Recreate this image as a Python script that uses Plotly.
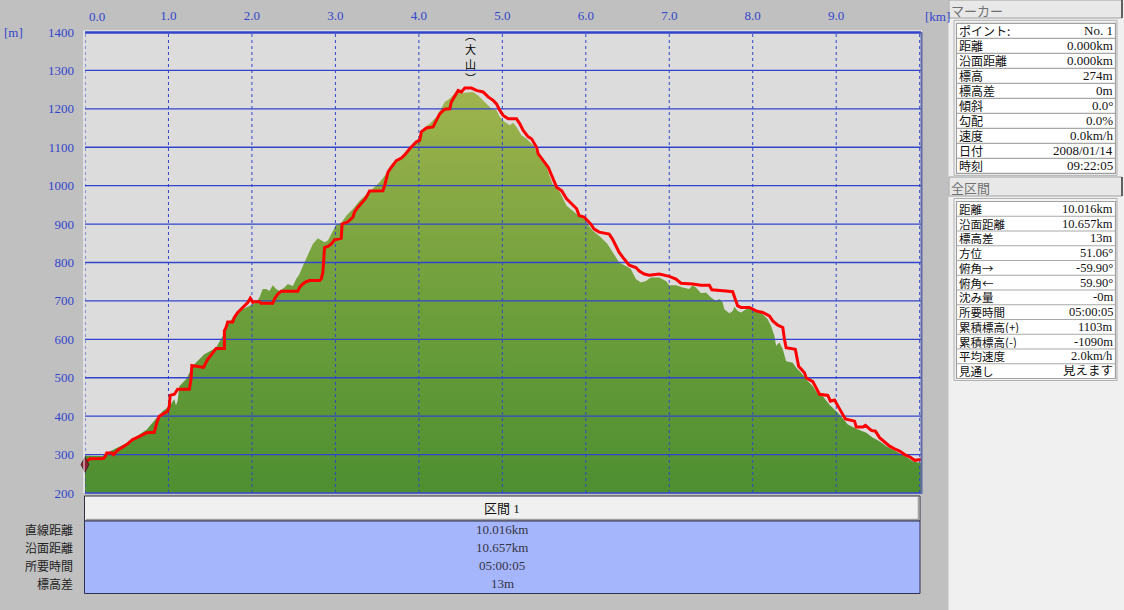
import plotly.graph_objects as go

# ---------------- data ----------------
terrain_km = [0.00, 0.21, 0.30, 0.50, 0.62, 0.74, 0.86, 0.93, 1.01, 1.07, 1.09, 1.11, 1.13, 1.21, 1.31,
              1.43, 1.57, 1.65, 1.69, 1.77, 1.89, 1.97, 2.05, 2.09, 2.13, 2.17, 2.21, 2.25, 2.29, 2.33,
              2.39, 2.43, 2.49, 2.53, 2.57, 2.61, 2.65, 2.69, 2.73, 2.79, 2.83, 2.87, 2.91, 2.95, 3.01,
              3.07, 3.13, 3.21, 3.29, 3.41, 3.47, 3.53, 3.61, 3.69, 3.77, 3.85, 3.93, 4.01, 4.09, 4.13,
              4.21, 4.31, 4.37, 4.43, 4.51, 4.65, 4.71, 4.77, 4.83, 4.87, 4.93, 4.97, 5.03, 5.09, 5.13,
              5.17, 5.23, 5.29, 5.37, 5.45, 5.53, 5.60, 5.69, 5.77, 5.89, 5.98, 6.08, 6.18, 6.26, 6.34,
              6.40, 6.48, 6.54, 6.60, 6.66, 6.72, 6.78, 6.88, 6.96, 7.00, 7.08, 7.16, 7.24, 7.28, 7.32,
              7.38, 7.44, 7.50, 7.56, 7.60, 7.64, 7.66, 7.72, 7.76, 7.78, 7.82, 7.86, 7.92, 7.98, 8.04,
              8.12, 8.18, 8.22, 8.26, 8.28, 8.32, 8.36, 8.40, 8.48, 8.52, 8.58, 8.64, 8.72, 8.78, 8.84,
              8.92, 9.02, 9.10, 9.14, 9.24, 9.36, 9.44, 9.52, 9.60, 9.68, 9.76, 9.84, 9.92, 10.016]
terrain_m = [297, 296, 309, 330, 348, 365, 396, 413, 426, 444, 428, 440, 478, 496, 535,
             561, 578, 609, 631, 657, 678, 687, 696, 709, 731, 731, 726, 741, 731, 726,
             735, 744, 739, 757, 770, 791, 809, 826, 848, 863, 859, 853, 857, 874, 898,
             903, 922, 939, 961, 985, 998, 1009, 1031, 1052, 1068, 1087, 1105, 1127, 1155, 1161,
             1179, 1218, 1227, 1240, 1242, 1244, 1235, 1222, 1209, 1200, 1196, 1179, 1166, 1157, 1164,
             1153, 1131, 1122, 1105, 1070, 1048, 1005, 983, 948, 926, 913, 883, 866, 848, 822,
             800, 791, 783, 757, 748, 752, 761, 761, 752, 741, 741, 735, 731, 741, 735,
             720, 722, 709, 700, 705, 696, 678, 668, 674, 685, 674, 670, 678, 680, 674,
             665, 652, 635, 609, 583, 592, 574, 543, 539, 526, 513, 496, 478, 457, 452,
             430, 409, 389, 378, 367, 357, 344, 335, 322, 313, 303, 294, 282, 278]

track_km = [0.00, 0.06, 0.22, 0.24, 0.26, 0.32, 0.34, 0.40, 0.50, 0.57, 0.66, 0.74, 0.83, 0.86, 0.89,
            0.95, 0.99, 1.01, 1.02, 1.07, 1.11, 1.25, 1.27, 1.28, 1.42, 1.47, 1.52, 1.57, 1.67, 1.67,
            1.69, 1.71, 1.77, 1.79, 1.83, 1.87, 1.91, 1.95, 1.98, 2.01, 2.03, 2.09, 2.11, 2.25, 2.27,
            2.31, 2.35, 2.55, 2.57, 2.61, 2.65, 2.69, 2.81, 2.83, 2.85, 2.86, 2.87, 2.91, 2.95, 2.99,
            3.07, 3.08, 3.15, 3.21, 3.23, 3.27, 3.33, 3.36, 3.41, 3.57, 3.59, 3.63, 3.67, 3.73, 3.79,
            3.83, 3.89, 3.97, 4.01, 4.03, 4.09, 4.17, 4.21, 4.25, 4.31, 4.37, 4.39, 4.43, 4.47, 4.51,
            4.55, 4.63, 4.69, 4.77, 4.83, 4.89, 4.93, 4.97, 5.01, 5.07, 5.17, 5.21, 5.25, 5.31, 5.35,
            5.41, 5.43, 5.49, 5.55, 5.60, 5.65, 5.71, 5.77, 5.83, 5.89, 5.92, 5.98, 6.06, 6.10, 6.16,
            6.28, 6.32, 6.36, 6.40, 6.46, 6.52, 6.60, 6.64, 6.70, 6.76, 6.88, 7.00, 7.08, 7.14, 7.28,
            7.38, 7.48, 7.51, 7.68, 7.76, 7.79, 7.82, 7.86, 7.96, 8.04, 8.12, 8.20, 8.24, 8.30, 8.36,
            8.38, 8.40, 8.51, 8.53, 8.55, 8.62, 8.64, 8.72, 8.76, 8.80, 8.90, 8.93, 8.98, 9.00, 9.04,
            9.08, 9.11, 9.22, 9.24, 9.32, 9.35, 9.42, 9.47, 9.52, 9.58, 9.64, 9.70, 9.76, 9.82, 9.88,
            9.94, 10.016]
track_m = [280, 289, 290, 294, 304, 304, 300, 313, 326, 339, 348, 357, 358, 383, 400,
           409, 413, 426, 454, 457, 470, 470, 496, 532, 527, 548, 561, 576, 576, 622,
           631, 645, 645, 657, 670, 678, 687, 696, 707, 696, 698, 698, 694, 694, 705,
           718, 725, 725, 735, 744, 750, 753, 753, 757, 774, 809, 839, 842, 848, 859,
           863, 900, 906, 918, 932, 944, 958, 966, 986, 987, 1000, 1035, 1048, 1065, 1072,
           1080, 1096, 1114, 1118, 1140, 1150, 1153, 1170, 1187, 1199, 1200, 1218, 1235, 1248, 1244,
           1254, 1254, 1248, 1244, 1231, 1222, 1213, 1196, 1183, 1174, 1174, 1161, 1144, 1127, 1122,
           1100, 1083, 1065, 1048, 1022, 996, 987, 966, 953, 940, 922, 918, 900, 887, 879,
           874, 861, 844, 826, 809, 793, 787, 778, 770, 767, 770, 764, 757, 746, 744,
           741, 741, 729, 726, 724, 705, 687, 683, 683, 674, 670, 661, 648, 637, 631,
           600, 578, 574, 548, 530, 513, 500, 490, 474, 457, 454, 439, 442, 433, 419,
           404, 393, 387, 372, 372, 376, 363, 361, 344, 332, 322, 315, 309, 300, 294,
           285, 287]

x_tickvals = [0, 1, 2, 3, 4, 5, 6, 7, 8, 9, 10]
x_ticktext = ["", "1.0", "2.0", "3.0", "4.0", "5.0", "6.0", "7.0", "8.0", "9.0", ""]
y_tickvals = [200, 300, 400, 500, 600, 700, 800, 900, 1000, 1100, 1200, 1300, 1400]
x_range = [0, 10.016]
y_range = [200, 1400]

peak_name = "︵<br>大<br>山<br>︶"
peak_km = 4.62
peak_label_m = 1336

marker_km = [0.0]
marker_m = [274]

marker_header = "マーカー"
marker_labels = ["ポイント:", "距離", "沿面距離", "標高", "標高差", "傾斜", "勾配", "速度", "日付", "時刻"]
marker_values = ["No. 1", "0.000km", "0.000km", "274m", "0m", "0.0°", "0.0%", "0.0km/h",
                 "2008/01/14", "09:22:05"]
section_header = "全区間"
section_labels = ["距離", "沿面距離", "標高差", "方位", "俯角→", "俯角←", "沈み量", "所要時間",
                  "累積標高(+)", "累積標高(-)", "平均速度", "見通し"]
section_values = ["10.016km", "10.657km", "13m", "51.06°", "-59.90°", "59.90°", "-0m", "05:00:05",
                  "1103m", "-1090m", "2.0km/h", "見えます"]
summary_title = "区間 1"
summary_labels = ["直線距離", "沿面距離", "所要時間", "標高差"]
summary_values = ["10.016km", "10.657km", "05:00:05", "13m"]

# ---------------- style ----------------
W, H = 1124, 610
FONT = "Liberation Serif, Noto Sans CJK JP, serif"
JFONT = "Noto Sans CJK JP, sans-serif"
BLUE = "#3344CC"
GRID = "#3344CC"


def px(x):
    return x / W


def py(y):
    return 1 - y / H


def text(x, y, s, font, xanchor="center", **kw):
    d = dict(xref="paper", yref="paper", x=px(x), y=py(y), text=s, xanchor=xanchor, yanchor="middle",
             showarrow=False, font=font)
    d.update(kw)
    return d


fig = go.Figure()

# terrain fill
fig.add_trace(go.Scatter(
    x=terrain_km, y=terrain_m, mode="lines", line=dict(width=0, color="#6E9B3C"),
    fill="tozeroy",
    fillgradient=dict(type="vertical", start=200, stop=1250,
                      colorscale=[[0, "#4E8F31"], [0.5, "#70A03C"], [1, "#A0B44E"]]),
    hoverinfo="skip"))

# grid lines drawn above terrain
gx, gy = [], []
for v in y_tickvals[1:-1]:
    gx += [x_range[0], x_range[1], None]
    gy += [v, v, None]
fig.add_trace(go.Scatter(x=gx, y=gy, mode="lines", line=dict(color=GRID, width=1.3),
                         hoverinfo="skip"))
vx, vy = [], []
for v in x_tickvals:
    vx += [v, v, None]
    vy += [y_range[0], y_range[1], None]
fig.add_trace(go.Scatter(x=vx, y=vy, mode="lines", line=dict(color=GRID, width=1, dash="dot"),
                         hoverinfo="skip"))

# GPS track
fig.add_trace(go.Scatter(x=track_km, y=track_m, mode="lines",
                         line=dict(color="#FF0000", width=3), hoverinfo="skip"))

# current marker
fig.add_trace(go.Scatter(x=marker_km, y=marker_m, mode="markers",
                         marker=dict(symbol="diamond-tall", size=11, color="#8A2030",
                                     line=dict(color="#402020", width=1)),
                         cliponaxis=False, hoverinfo="skip"))

shapes = []
annotations = []

# plot frame
shapes.append(dict(type="line", xref="paper", yref="paper", x0=px(84), x1=px(84), y0=py(31), y1=py(493),
                   line=dict(color="white", width=1)))
shapes.append(dict(type="line", xref="paper", yref="paper", x0=px(84), x1=px(922), y0=py(31), y1=py(31),
                   line=dict(color="white", width=1)))
shapes.append(dict(type="line", xref="paper", yref="paper", x0=px(85), x1=px(921), y0=py(32.5), y1=py(32.5),
                   line=dict(color=BLUE, width=2.5)))
shapes.append(dict(type="line", xref="paper", yref="paper", x0=px(85), x1=px(921), y0=py(493), y1=py(493),
                   line=dict(color=BLUE, width=1.5)))
shapes.append(dict(type="line", xref="paper", yref="paper", x0=px(921.5), x1=px(921.5), y0=py(32), y1=py(494),
                   line=dict(color="#6068A8", width=2)))

# bottom summary panel
shapes.append(dict(type="rect", xref="paper", yref="paper", x0=px(84.5), x1=px(920), y0=py(496), y1=py(521),
                   fillcolor="#F0F0F0", line=dict(color="#303040", width=1)))
shapes.append(dict(type="line", xref="paper", yref="paper", x0=px(86), x1=px(918), y0=py(519.5), y1=py(519.5),
                   line=dict(color="#A0A0A0", width=1.5)))
shapes.append(dict(type="line", xref="paper", yref="paper", x0=px(918.5), x1=px(918.5), y0=py(497), y1=py(520),
                   line=dict(color="#A0A0A0", width=1.5)))
shapes.append(dict(type="rect", xref="paper", yref="paper", x0=px(84.5), x1=px(920), y0=py(521), y1=py(593.5),
                   fillcolor="#A6B6FC", line=dict(color="#303050", width=1)))
annotations.append(text(502, 508, summary_title, dict(family=FONT, size=13, color="#111111")))
for i, (lab, val) in enumerate(zip(summary_labels, summary_values)):
    yy = 529.5 + 18 * i
    annotations.append(text(74, yy, lab, dict(family=JFONT, size=12, color="#222222"), xanchor="right",
                            height=15, borderpad=0))
    annotations.append(text(502, yy, val, dict(family=FONT, size=13, color="#333344"),
                            height=15, borderpad=0))

# right info panel
shapes.append(dict(type="rect", xref="paper", yref="paper", x0=px(948.5), x1=px(1124), y0=py(0), y1=py(610),
                   fillcolor="#F0F0F0", line=dict(width=0)))


def panel(header, header_y0, header_y1, labels, values, top, row_h, lab_size, val_size, box_h):
    shapes.append(dict(type="rect", xref="paper", yref="paper", x0=px(949), x1=px(1122), y0=py(header_y0),
                       y1=py(header_y1), fillcolor="#E8E8E8", line=dict(color="#A0A0A0", width=1)))
    shapes.append(dict(type="line", xref="paper", yref="paper", x0=px(1122), x1=px(1122), y0=py(header_y0),
                       y1=py(header_y1), line=dict(color="#606060", width=2)))
    annotations.append(text(950, (header_y0 + header_y1) / 2 + 0.5, header,
                            dict(family=JFONT, size=13, color="#707070"), xanchor="left",
                            height=16, borderpad=0))
    bottom = top + row_h * len(labels)
    shapes.append(dict(type="rect", xref="paper", yref="paper", x0=px(954), x1=px(1117), y0=py(top - 3),
                       y1=py(bottom + 2), fillcolor="#F4F4F4", line=dict(color="#B0B0B0", width=1)))
    shapes.append(dict(type="rect", xref="paper", yref="paper", x0=px(956.5), x1=px(1115.5), y0=py(top),
                       y1=py(bottom), fillcolor="white", line=dict(color="#A0A0A0", width=1.2)))
    for i, (lab, val) in enumerate(zip(labels, values)):
        yc = top + row_h * (i + 0.5)
        if i > 0:
            shapes.append(dict(type="line", xref="paper", yref="paper", x0=px(956.5), x1=px(1115.5),
                               y0=py(top + row_h * i), y1=py(top + row_h * i),
                               line=dict(color="#A8A8A8", width=1.2)))
        annotations.append(text(958, yc, lab, dict(family=JFONT, size=lab_size, color="#111111"),
                                xanchor="left", height=box_h, borderpad=0))
        annotations.append(text(1114, yc, val, dict(family=FONT, size=val_size, color="#111111"),
                                xanchor="right", height=box_h, borderpad=0))


panel(marker_header, 0, 18, marker_labels, marker_values, 23.3, 15.0, 12, 13, 13)
panel(section_header, 177, 196, section_labels, section_values, 201.5, 14.75, 11.5, 12.5, 12)

# axis unit labels and first tick label
annotations.append(text(2, 33, "[m]", dict(family=FONT, size=13, color=BLUE), xanchor="left"))
annotations.append(text(923, 16, "[km]", dict(family=FONT, size=13, color=BLUE), xanchor="left"))
annotations.append(dict(xref="x", yref="paper", x=x_tickvals[0], y=py(16), text="0.0", xshift=12,
                        xanchor="center", yanchor="middle",
                        showarrow=False, font=dict(family=FONT, size=13, color=BLUE)))
# peak name
annotations.append(dict(xref="x", yref="y", x=peak_km, y=peak_label_m, text=peak_name,
                        xanchor="center", yanchor="middle",
                        showarrow=False, font=dict(family=JFONT, size=11, color="#000000")))

fig.update_layout(
    width=W, height=H, margin=dict(l=0, r=0, t=0, b=0, pad=0, autoexpand=False),
    paper_bgcolor="#C0C0C0", plot_bgcolor="#DCDCDC", showlegend=False,
    shapes=shapes, annotations=annotations,
    xaxis=dict(domain=[px(85), px(921)], range=x_range, side="top", tickmode="array",
               tickvals=x_tickvals, ticktext=x_ticktext, showgrid=False, zeroline=False,
               showline=False, ticks="", ticklabelstandoff=8, automargin=False,
               tickfont=dict(family=FONT, size=13, color=BLUE), fixedrange=True),
    yaxis=dict(domain=[py(493), py(32)], range=y_range, tickmode="array", tickvals=y_tickvals,
               showgrid=False, zeroline=False, showline=False, ticks="", ticklabelstandoff=10,
               automargin=False,
               tickfont=dict(family=FONT, size=13, color=BLUE), fixedrange=True),
)

fig.write_html("out.html", config={"displayModeBar": False},
               post_script="document.body.style.margin='0';document.body.style.overflow='hidden';")
